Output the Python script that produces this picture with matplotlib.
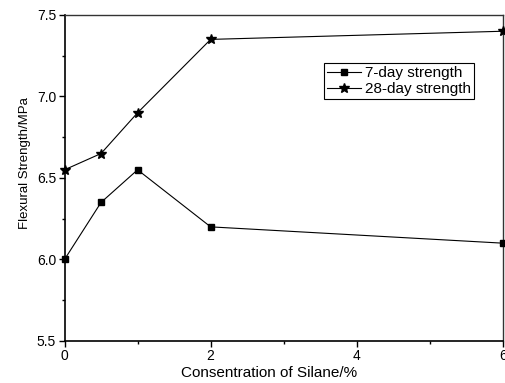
import matplotlib.pyplot as plt
from matplotlib.ticker import MultipleLocator

plt.rcParams['font.family'] = ['Liberation Sans', 'DejaVu Sans']

# silane content (%) and flexural strength (MPa)
silane = [0, 0.5, 1, 2, 6]
day7 = [6.0, 6.35, 6.55, 6.2, 6.1]
day28 = [6.55, 6.65, 6.9, 7.35, 7.4]

fig = plt.figure(figsize=(5.06, 3.83), dpi=100)
ax = fig.add_axes([0.1275, 0.1097, 0.8665, 0.8513])

ax.plot(silane, day7, color='black', linewidth=0.8, marker='s', markersize=5,
        label='7-day strength', clip_on=False, zorder=3)
ax.plot(silane, day28, color='black', linewidth=0.8, marker='*', markersize=7,
        label='28-day strength', clip_on=False, zorder=3)

ax.set_xlim(0, 6)
ax.set_ylim(5.5, 7.5)
ax.set_xticks([0, 2, 4, 6])
ax.set_xticklabels(['0', '2', '4', '6'])
ax.xaxis.set_minor_locator(MultipleLocator(1))
ax.yaxis.set_major_locator(MultipleLocator(0.5))
ax.yaxis.set_minor_locator(MultipleLocator(0.25))

ax.tick_params(which='major', direction='out', length=4, width=1, labelsize=10, pad=2)
ax.tick_params(which='minor', direction='out', length=2, width=1)
for s in ['left', 'bottom']:
    ax.spines[s].set_linewidth(1.2)
for s in ['top', 'right']:
    ax.spines[s].set_linewidth(1.0)
    ax.spines[s].set_color('#333333')

ax.set_xlabel('Consentration of Silane/%', fontsize=11, labelpad=2)
ax.set_ylabel('Flexural Strength/MPa', fontsize=9.5, labelpad=4)
ax.xaxis.label.set_x(0.4675)
ax.yaxis.label.set_y(0.546)

leg = ax.legend(loc='upper left', bbox_to_anchor=(0.592, 0.853), fontsize=11,
                fancybox=False, edgecolor='black', framealpha=1,
                borderpad=0.2, labelspacing=0.15, handlelength=2.2,
                handletextpad=0.3, borderaxespad=0)
leg.get_frame().set_linewidth(0.8)

fig.savefig('out.png', dpi=100)
